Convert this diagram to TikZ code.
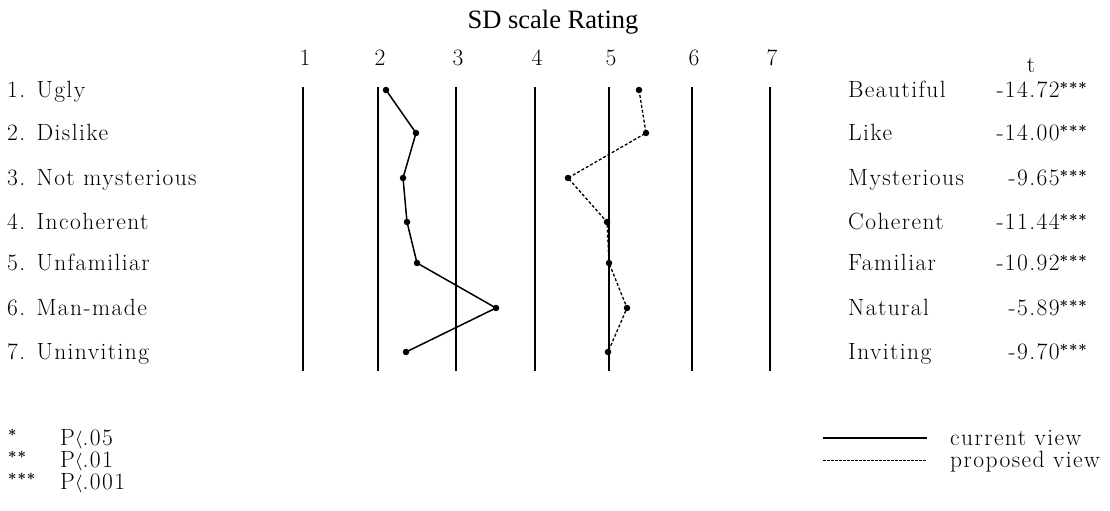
\documentclass[tikz,border=0pt]{standalone}
\usepackage{fontspec}
\newfontfamily\titlefont{Liberation Serif}
\newfontfamily\lbfont{Latin Modern Roman}[LetterSpace=6]
\newcommand\mystars[1]{\raisebox{0.2em}{\fontsize{15bp}{15bp}\selectfont\bfseries #1}}
\newcommand\lessmark{\raisebox{0.02em}{\scalebox{0.8}[0.72]{$\langle$}}}
\begin{document}
\begin{tikzpicture}[x=1bp,y=-1bp,
  txt/.style={inner sep=0pt, font=\lbfont\fontsize{23.5bp}{27bp}\selectfont},
  lbl/.style={txt, anchor=base west},
  tval/.style={txt, anchor=base east},
  num/.style={txt, anchor=base},
  axisline/.style={line width=1.6bp},
  dot/.style={circle, fill=black, inner sep=0pt, minimum size=6.5bp},
  curline/.style={line width=1.5bp},
  propline/.style={line width=1.3bp, dash pattern=on 3bp off 2bp},
]
\useasboundingbox (0,0) rectangle (1110,511);
% title
\node[inner sep=0pt, font=\titlefont\fontsize{26.5bp}{30bp}\selectfont, anchor=base] (title) at (553,29) {SD scale Rating};
% scale numbers and vertical lines
\foreach \i/\x in {1/303,2/378,3/456,4/535,5/609,6/692,7/770}{
  \node[num] (n\i) at (\x+2,66) {\i};
  \coordinate (top\i) at (\x,87);
  \coordinate (bot\i) at (\x,371);
  \draw[axisline] (top\i) -- (bot\i);
}
% left labels
\foreach \i/\y/\t in {1/90/{1. Ugly},2/133/{2. Dislike},3/178/{3. Not mysterious},4/222/{4. Incoherent},5/263/{5. Unfamiliar},6/308/{6. Man-made},7/352/{7. Uninviting}}{
  \node[lbl] (L\i) at (7,\y+8) {\t};
}
% right labels
\node[num] (thead) at (1031,73) {t};
\foreach \i/\y/\t/\v in {1/90/Beautiful/-14.72,2/133/Like/-14.00,3/178/Mysterious/-9.65,4/222/Coherent/-11.44,5/263/Familiar/-10.92,6/308/Natural/-5.89,7/352/Inviting/-9.70}{
  \node[lbl] (R\i) at (848,\y+8) {\t};
  \node[tval] (T\i) at (1087,\y+8) {\v\mystars{***}};
}
% current view points
\foreach \i/\x/\y in {1/386/90,2/416/133,3/403/178,4/407/222,5/417/263,6/496/308,7/406/352}{
  \node[dot] (c\i) at (\x,\y) {};
}
\draw[curline] (c1.center) -- (c2.center) -- (c3.center) -- (c4.center) -- (c5.center) -- (c6.center) -- (c7.center);
% proposed view points
\foreach \i/\x/\y in {1/639/90,2/646/133,3/568/178,4/607/222,5/609/263,6/627/308,7/608/352}{
  \node[dot] (p\i) at (\x,\y) {};
}
\draw[propline] (p1.center) -- (p2.center) -- (p3.center) -- (p4.center) -- (p5.center) -- (p6.center) -- (p7.center);
% significance legend
\node[lbl] (s1) at (8,445) {\mystars{*}};
\node[lbl] (s2) at (8,467) {\mystars{**}};
\node[lbl] (s3) at (8,489) {\mystars{***}};
\node[lbl] (q1) at (60,445) {P\lessmark.05};
\node[lbl] (q2) at (60,467) {P\lessmark.01};
\node[lbl] (q3) at (60,489) {P\lessmark.001};
% line legend
\coordinate (ca) at (823,438);
\coordinate (cb) at (927,438);
\draw[curline] (ca) -- (cb);
\node[lbl] (cv) at (950,445) {current view};
\coordinate (pa) at (823,460);
\coordinate (pb) at (927,460);
\draw[propline, line width=1bp, dash pattern=on 2.5bp off 1.5bp] (pa) -- (pb);
\node[lbl] (pv) at (950,467) {proposed view};
\end{tikzpicture}
\end{document}
